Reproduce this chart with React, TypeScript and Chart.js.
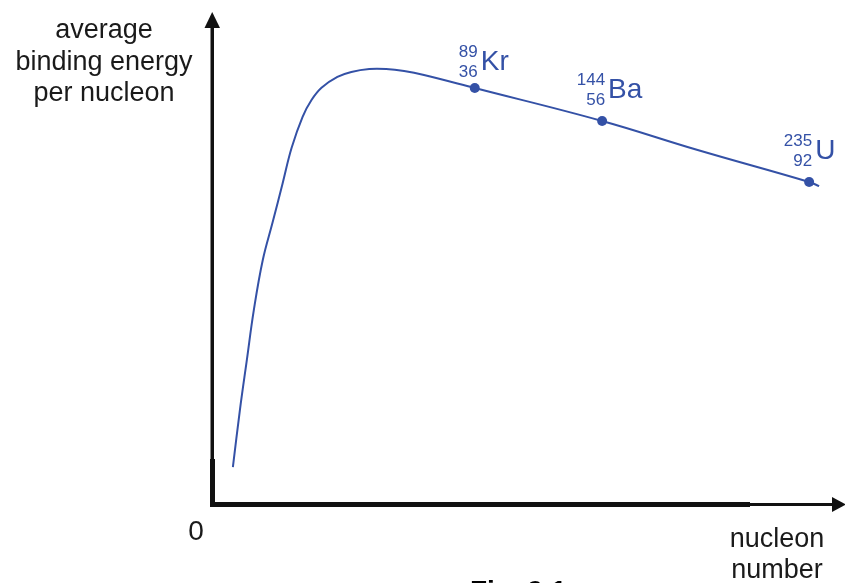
import { useEffect, useRef } from "react";
import { Chart, registerables } from "chart.js";

Chart.register(...registerables);

// Curve (arbitrary sketch units: x 0..100 across the axis, y 0..100 up the axis)
const curveX = [3.17, 4.29, 5.4, 6.51, 7.94, 9.52, 11.11, 12.54, 14.29, 15.71, 17.3, 19.84, 22.06, 24.92, 27.62, 30.48, 33.65, 41.75, 62.06, 77.3, 95.08, 96.67];
const curveY = [7.5, 19.1, 29.3, 39.4, 49.6, 57.3, 65.2, 72.4, 78.7, 82.1, 84.6, 86.8, 87.8, 88.4, 88.4, 88.0, 87.2, 84.55, 77.85, 71.95, 65.45, 64.6];

// Marked nuclides
const nuclideSymbols = ["Kr", "Ba", "U"];
const nuclideMass = ["89", "144", "235"];
const nuclideProton = ["36", "56", "92"];
const nuclideX = [41.75, 62.06, 95.08];
const nuclideY = [84.55, 77.85, 65.45];

// Text
const yAxisTitle = ["average", "binding energy", "per nucleon"];
const xAxisTitle = ["nucleon", "number"];
const originLabel = "0";
const figureCaption = "Fig. 9.1";

const BLUE = "#3451a6";
const INK = "#1a1a1a";
const FONT = "'Liberation Sans', Arial, Helvetica, sans-serif";
const labelNudge = [5, 0, 0];

const sketchPlugin = {
  id: "sketch",
  afterDraw(chart: any) {
    const { ctx, chartArea: a } = chart;
    const W = chart.width;
    ctx.save();
    ctx.fillStyle = "#111";
    // y axis
    ctx.fillRect(a.left - 2.5, a.top + 14, 3.5, a.bottom - a.top - 12);
    ctx.fillRect(a.left - 3, a.bottom - 45, 5, 45);
    ctx.beginPath();
    ctx.moveTo(a.left - 0.8, a.top);
    ctx.lineTo(a.left - 8.5, a.top + 16);
    ctx.lineTo(a.left + 7, a.top + 16);
    ctx.closePath();
    ctx.fill();
    // x axis
    ctx.fillRect(a.left - 3, a.bottom - 2, 750 - (a.left - 3), 5);
    ctx.fillRect(750, a.bottom - 1, W - 12 - 750, 3);
    ctx.beginPath();
    ctx.moveTo(W + 1, a.bottom + 0.5);
    ctx.lineTo(W - 13, a.bottom - 7);
    ctx.lineTo(W - 13, a.bottom + 8);
    ctx.closePath();
    ctx.fill();

    // axis titles
    ctx.fillStyle = INK;
    ctx.font = `27px ${FONT}`;
    ctx.textAlign = "center";
    ctx.textBaseline = "alphabetic";
    yAxisTitle.forEach((t, i) => ctx.fillText(t, 104, 38 + i * 31.5));
    xAxisTitle.forEach((t, i) => ctx.fillText(t, 777, 547 + i * 31));
    ctx.font = `28px ${FONT}`;
    ctx.fillText(originLabel, 196, 540);
    ctx.textAlign = "left";
    ctx.font = `bold 28px ${FONT}`;
    ctx.fillStyle = "#000";
    ctx.fillText(figureCaption, 470, 600);

    // nuclide labels
    const meta = chart.getDatasetMeta(1);
    ctx.fillStyle = BLUE;
    meta.data.forEach((pt: any, i: number) => {
      const dy = labelNudge[i] || 0;
      ctx.font = `17px ${FONT}`;
      ctx.textAlign = "right";
      ctx.textBaseline = "middle";
      ctx.fillText(nuclideMass[i], pt.x + 3, pt.y - 41 + dy);
      ctx.fillText(nuclideProton[i], pt.x + 3, pt.y - 21 + dy);
      ctx.font = `28px ${FONT}`;
      ctx.textAlign = "left";
      ctx.textBaseline = "alphabetic";
      ctx.fillText(nuclideSymbols[i], pt.x + 6, pt.y - 23 + dy);
    });
    ctx.restore();
  },
};

export default function App() {
  const ref = useRef<HTMLCanvasElement | null>(null);
  useEffect(() => {
    if (!ref.current) return;
    const chart = new Chart(ref.current, {
      type: "scatter",
      data: {
        datasets: [
          {
            data: curveX.map((x, i) => ({ x, y: curveY[i] })),
            showLine: true,
            borderColor: BLUE,
            borderWidth: 2,
            pointRadius: 0,
            tension: 0.4,
            fill: false,
          } as any,
          {
            data: nuclideX.map((x, i) => ({ x, y: nuclideY[i] })),
            showLine: false,
            pointRadius: 5,
            pointBackgroundColor: BLUE,
            pointBorderColor: BLUE,
            pointBorderWidth: 0,
          },
        ],
      },
      options: {
        animation: false,
        responsive: false,
        clip: false as any,
        layout: { padding: { left: 213, right: 2, top: 12, bottom: 79 } },
        scales: {
          x: { type: "linear", min: 0, max: 100, display: false },
          y: { type: "linear", min: 0, max: 100, display: false },
        },
        plugins: { legend: { display: false }, tooltip: { enabled: false } },
      },
      plugins: [sketchPlugin],
    });
    return () => chart.destroy();
  }, []);
  return (
    <div style={{ position: "absolute", left: 0, top: 0, width: 845, height: 583, background: "#fff" }}>
      <canvas ref={ref} width={845} height={583} style={{ display: "block" }} />
    </div>
  );
}
